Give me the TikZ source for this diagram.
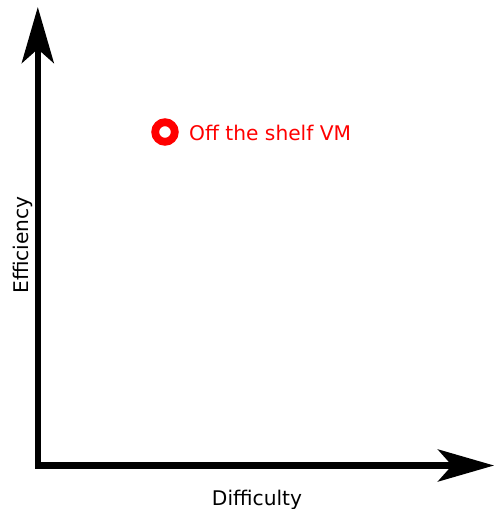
\documentclass[tikz,border=0pt]{standalone}
\usepackage{fontspec}
\setmainfont{DejaVu Sans}
\usetikzlibrary{arrows.meta}
\tikzset{
  axis/.style={line width=6.3pt, line join=miter,
    {Stealth[length=56pt,width=32pt,inset=14pt]}-{Stealth[length=56pt,width=32pt,inset=14pt]}},
  axislabel/.style={inner sep=0pt, font=\fontsize{20.2}{23}\selectfont, text=black},
  marker/.style={circle, draw=red, line width=7.8pt, minimum size=19.6pt, inner sep=0pt},
  markerlabel/.style={inner sep=0pt, font=\fontsize{20.2}{23}\selectfont, text=red}
}
\begin{document}
\begin{tikzpicture}[x=1pt,y=1pt]
  \useasboundingbox (0,0) rectangle (496,509);
  % axes
  \coordinate (ytip) at (37.8,502);
  \coordinate (origin) at (37.8,43.5);
  \coordinate (xtip) at (494,43.5);
  \draw[axis] (ytip) -- (origin) -- (xtip);
  % axis labels
  \node[axislabel, anchor=base] (xlabel) at (257,3.5) {Difficulty};
  \node[axislabel, anchor=base, rotate=90] (ylabel) at (28.5,264) {Efficiency};
  % data point
  \node[marker] (vm) at (165,377) {};
  \node[markerlabel, anchor=base west] (vmlabel) at (189,368.3) {Off the shelf VM};
\end{tikzpicture}
\end{document}
